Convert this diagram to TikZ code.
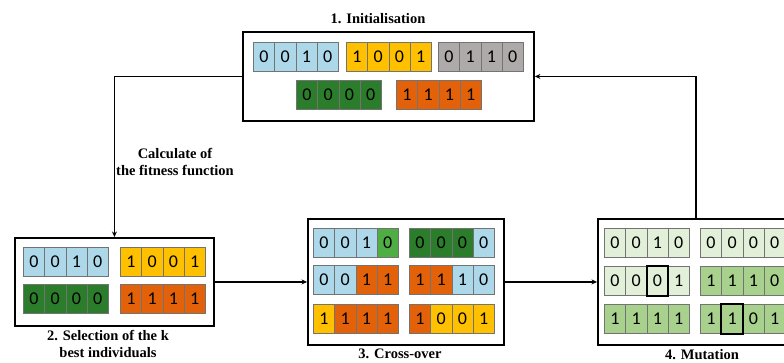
\documentclass[tikz,border=0pt]{standalone}
\usepackage{fontspec}
\setmainfont{Liberation Serif}
\newfontfamily\cellfont{Carlito}
\usetikzlibrary{arrows.meta}
\definecolor{cblue}{HTML}{ADD8E9}
\definecolor{cyel}{HTML}{FFC000}
\definecolor{cgrey}{HTML}{AEAAAA}
\definecolor{cdgreen}{HTML}{2B7D2B}
\definecolor{corange}{HTML}{E36209}
\definecolor{cbgreen}{HTML}{4EAE44}
\definecolor{clgreen}{HTML}{E2F0D9}
\definecolor{cmgreen}{HTML}{A9D18E}
\tikzset{
  cell/.style={draw=black!55, line width=0.6pt, inner sep=0pt, minimum width=21.25pt,
    minimum height=29pt, anchor=north west, font=\cellfont\fontsize{18}{18}\selectfont},
  bigbox/.style={draw=black, line width=1.9pt, anchor=north west, inner sep=0pt},
  arr/.style={line width=1.4pt, -{Stealth[length=5.5pt,width=5pt]}},
  lab/.style={font=\bfseries\fontsize{14.5}{17}\selectfont, align=center, inner sep=0pt},
  hl/.style={line width=2pt, draw=black}
}
\newcommand\chrom[4]{%
  \foreach [count=\i] \c/\d in {#4} {
    \node[cell, fill=\c] (#1-\i) at ({#2+(\i-1)*21.25}, #3) {\d};
  }%
}
\begin{document}
\begin{tikzpicture}[x=1pt, y=-1pt]
\useasboundingbox (0,0) rectangle (784,363);
\clip (0,0) rectangle (784,363);
% boxes
\node[bigbox, minimum width=291pt, minimum height=89pt] (b1) at (242,31) {};
\node[bigbox, minimum width=199pt, minimum height=88pt] (b2) at (14,237) {};
\node[bigbox, minimum width=196pt, minimum height=126pt] (b3) at (307,218) {};
\node[bigbox, minimum width=196pt, minimum height=126pt] (b4) at (597,218) {};
% 1 init
\chrom{ia}{253}{42}{cblue/0,cblue/0,cblue/1,cblue/0}
\chrom{ib}{346}{42}{cyel/1,cyel/0,cyel/0,cyel/1}
\chrom{ic}{438}{42}{cgrey/0,cgrey/1,cgrey/1,cgrey/0}
\chrom{id}{296}{80}{cdgreen/0,cdgreen/0,cdgreen/0,cdgreen/0}
\chrom{ie}{396}{80}{corange/1,corange/1,corange/1,corange/1}
% 2 selection
\chrom{sa}{23}{247}{cblue/0,cblue/0,cblue/1,cblue/0}
\chrom{sb}{120}{247}{cyel/1,cyel/0,cyel/0,cyel/1}
\chrom{sc}{23}{284}{cdgreen/0,cdgreen/0,cdgreen/0,cdgreen/0}
\chrom{sd}{120}{284}{corange/1,corange/1,corange/1,corange/1}
% 3 crossover
\chrom{ca}{313}{228}{cblue/0,cblue/0,cblue/1,cbgreen/0}
\chrom{cb}{409}{228}{cdgreen/0,cdgreen/0,cdgreen/0,cblue/0}
\chrom{cc}{313}{265}{cblue/0,cblue/0,corange/1,corange/1}
\chrom{cd}{409}{265}{corange/1,corange/1,cblue/1,cblue/0}
\chrom{ce}{313}{304}{cyel/1,corange/1,corange/1,corange/1}
\chrom{cf}{409}{304}{corange/1,cyel/0,cyel/0,cyel/1}
% 4 mutation
\chrom{ma}{604}{228}{clgreen/0,clgreen/0,clgreen/1,clgreen/0}
\chrom{mb}{700}{228}{clgreen/0,clgreen/0,clgreen/0,clgreen/0}
\chrom{mc}{604}{266}{clgreen/0,clgreen/0,clgreen/0,clgreen/1}
\chrom{md}{700}{266}{cmgreen/1,cmgreen/1,cmgreen/1,cmgreen/0}
\chrom{me}{604}{304}{cmgreen/1,cmgreen/1,cmgreen/1,cmgreen/1}
\chrom{mf}{700}{304}{cmgreen/1,cmgreen/1,cmgreen/0,cmgreen/1}
\draw[hl] (mc-3.north west) rectangle (mc-3.south east);
\draw[hl] (mf-2.north west) rectangle (mf-2.south east);
% labels
\node[lab] (t1) at (378,19) {1. Initialisation};
\node[lab] (tf) at (175,162) {Calculate of\\the fitness function};
\node[lab] (t2) at (108,344) {2. Selection of the k\\best individuals};
\node[lab] (t3) at (400,354) {3. Cross-over};
\node[lab] (t4) at (702,355) {4. Mutation};
% connectors
\draw[arr] (b1.west) -| (b2.north);
\draw[arr] (b2.east) -- (b3.west);
\draw[arr] (b3.east) -- (b4.west);
\draw[arr] (b4.north) |- (b1.east);
\end{tikzpicture}
\end{document}
